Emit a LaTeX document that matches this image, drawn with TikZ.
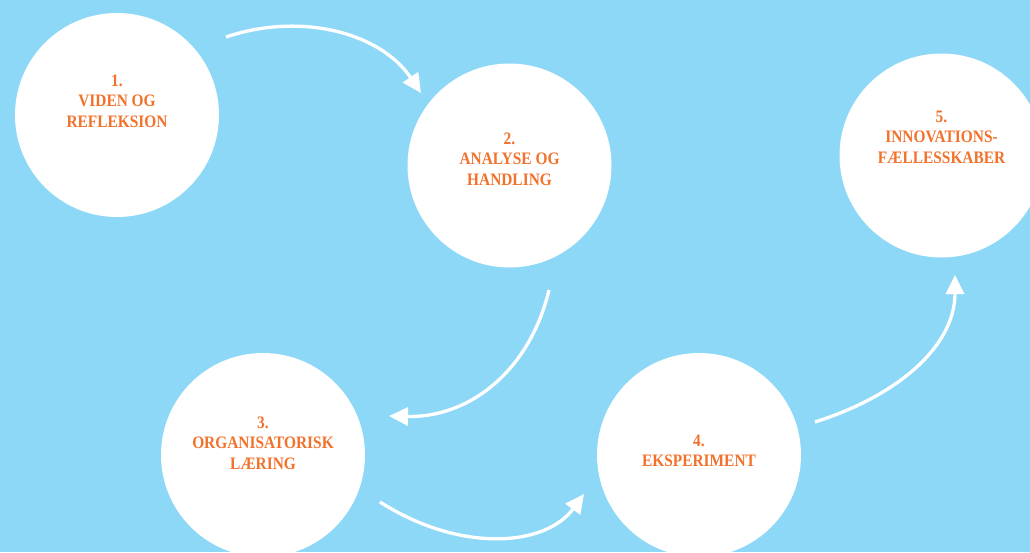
\documentclass[tikz,border=0pt]{standalone}
\usepackage{fontspec}
\setmainfont{Liberation Serif}
\newfontfamily\lblfont[FakeStretch=0.88]{Liberation Serif}
\usetikzlibrary{arrows.meta}
\definecolor{bgblue}{HTML}{8ED8F7}
\definecolor{lorange}{HTML}{F2722C}
\tikzset{
  bubble/.style={circle, fill=white, minimum size=204pt, inner sep=0pt},
  lbl/.style={text=lorange, align=center, font=\lblfont\bfseries\fontsize{17.5}{20.5}\selectfont, inner sep=0pt},
  flow/.style={draw=white, line width=3.3pt, -{Triangle[length=19pt,width=18pt]}}
}
\begin{document}
\begin{tikzpicture}[x=1pt,y=-1pt]
\fill[bgblue] (0,0) rectangle (1030,552);
\useasboundingbox (0,0) rectangle (1030,552);
\begin{scope}
\clip (0,0) rectangle (1030,552);
\node[bubble] (c1) at (117,115) {};
\node[bubble] (c2) at (509.5,165.5) {};
\node[bubble] (c3) at (263,455) {};
\node[bubble] (c4) at (699,455) {};
\node[bubble] (c5) at (941.5,155.5) {};
\end{scope}
\node[lbl] (t1) at (117,101) {1.\\VIDEN OG\\REFLEKSION};
\node[lbl] (t2) at (509.5,159) {2.\\ANALYSE OG\\HANDLING};
\node[lbl] (t3) at (263,443) {3.\\ORGANISATORISK\\LÆRING};
\node[lbl] (t4) at (699,451) {4.\\EKSPERIMENT};
\node[lbl] (t5) at (941.5,137) {5.\\INNOVATIONS-\\FÆLLESSKABER};
\coordinate (a1s) at (226,37);
\coordinate (a1e) at (421,93);
\coordinate (a2s) at (549,290);
\coordinate (a2e) at (389,416);
\coordinate (a3s) at (380,502);
\coordinate (a3e) at (584,494);
\coordinate (a4s) at (815,422);
\coordinate (a4e) at (955,275);
\draw[flow] (a1s) .. controls (300,12) and (380,32) .. (a1e);
\draw[flow] (a2s) .. controls (530,370) and (470,418) .. (a2e);
\draw[flow] (a3s) .. controls (460,553) and (545,547) .. (a3e);
\draw[flow] (a4s) .. controls (900,395) and (955,345) .. (a4e);
\end{tikzpicture}
\end{document}
